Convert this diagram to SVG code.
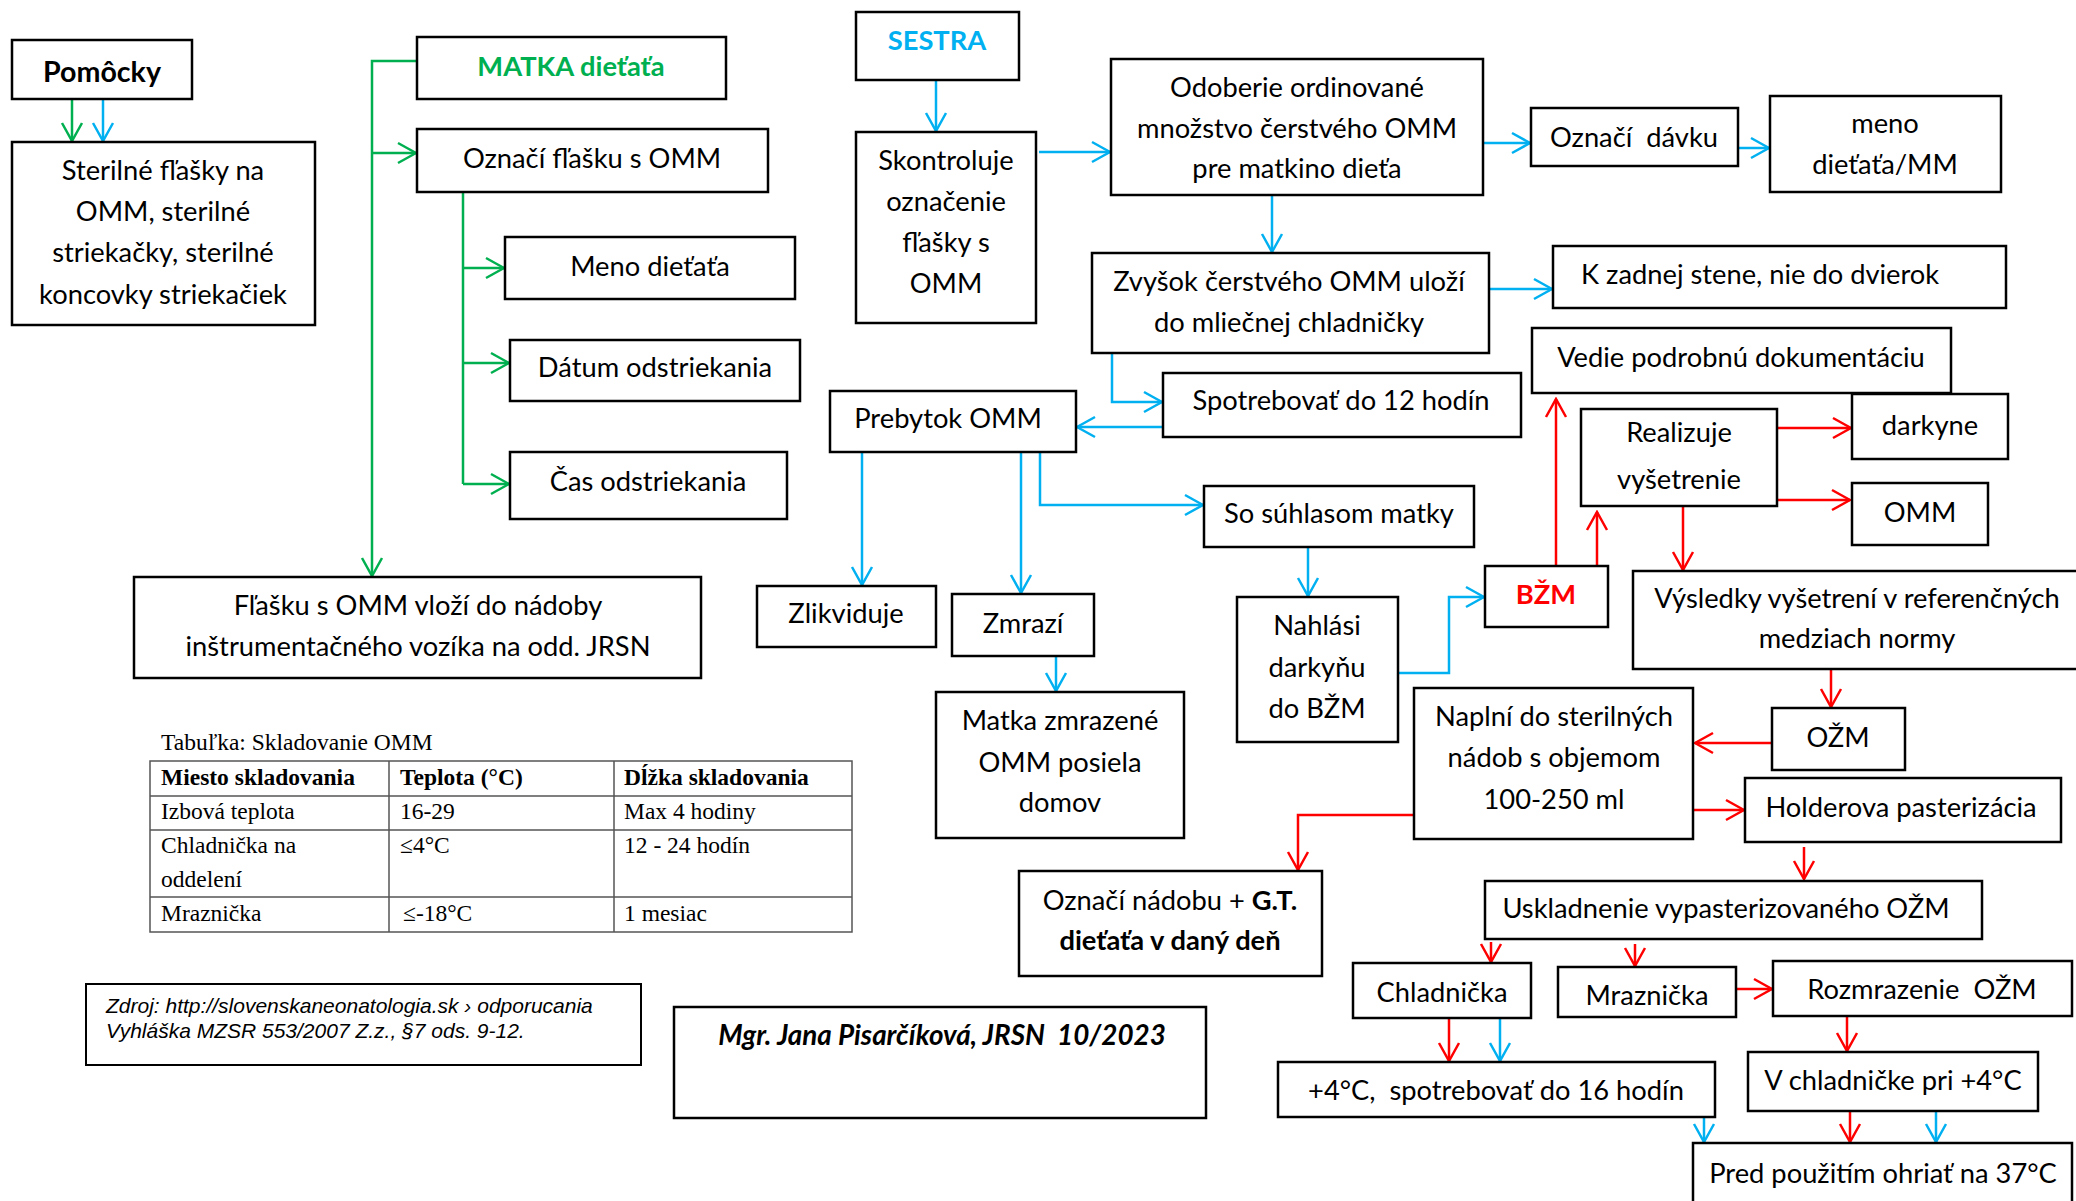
<svg xmlns="http://www.w3.org/2000/svg" width="2076" height="1201" viewBox="0 0 2076 1201">
<style>
.b{fill:#fff;stroke:#000;stroke-width:2.5}
.t{font-family:Lato,"Open Sans","DejaVu Sans",sans-serif;font-size:27.3px;fill:#000;text-anchor:middle}
.tl{text-anchor:start}
.bold{font-weight:bold}
.g{fill:none;stroke:#00B050;stroke-width:2.5}
.bl{fill:none;stroke:#00B0F0;stroke-width:2.5}
.r{fill:none;stroke:#FF0000;stroke-width:2.5}
.ser{font-family:"Liberation Serif","Times New Roman",serif;font-size:23.5px;fill:#000}
.tab{stroke:#555;stroke-width:1.5;fill:none}
.src{font-family:"Liberation Sans",Arial,sans-serif;font-style:italic;font-size:21px;fill:#000}
</style>
<defs>
<marker id="ag" markerUnits="userSpaceOnUse" viewBox="-20 -12 22 24" refX="0" refY="0" markerWidth="22" markerHeight="24" orient="auto"><path d="M-18,-10 L0,0 L-18,10" fill="none" stroke="#00B050" stroke-width="2.5"/></marker>
<marker id="ab" markerUnits="userSpaceOnUse" viewBox="-20 -12 22 24" refX="0" refY="0" markerWidth="22" markerHeight="24" orient="auto"><path d="M-18,-10 L0,0 L-18,10" fill="none" stroke="#00B0F0" stroke-width="2.5"/></marker>
<marker id="ar" markerUnits="userSpaceOnUse" viewBox="-20 -12 22 24" refX="0" refY="0" markerWidth="22" markerHeight="24" orient="auto"><path d="M-18,-10 L0,0 L-18,10" fill="none" stroke="#FF0000" stroke-width="2.5"/></marker>
</defs>
<rect width="2076" height="1201" fill="#fff"/>

<g id="connectors">
<g class="g">
<path d="M72,99 V141" marker-end="url(#ag)"/>
<path d="M417,61 H372 V576" marker-end="url(#ag)"/>
<path d="M372,153 H416" marker-end="url(#ag)"/>
<path d="M463,192 V484"/>
<path d="M463,268 H504" marker-end="url(#ag)"/>
<path d="M463,363 H509" marker-end="url(#ag)"/>
<path d="M463,484 H509" marker-end="url(#ag)"/>
</g>
<g class="bl">
<path d="M103,99 V141" marker-end="url(#ab)"/>
<path d="M936,80 V131" marker-end="url(#ab)"/>
<path d="M1039,152 H1110" marker-end="url(#ab)"/>
<path d="M1483,143 H1530" marker-end="url(#ab)"/>
<path d="M1738,148 H1769" marker-end="url(#ab)"/>
<path d="M1272,195 V252" marker-end="url(#ab)"/>
<path d="M1489,289 H1552" marker-end="url(#ab)"/>
<path d="M1112,353 V402 H1162" marker-end="url(#ab)"/>
<path d="M1163,427 H1077" marker-end="url(#ab)"/>
<path d="M862,452 V585" marker-end="url(#ab)"/>
<path d="M1021,452 V593" marker-end="url(#ab)"/>
<path d="M1040,452 V505 H1203" marker-end="url(#ab)"/>
<path d="M1056,656 V691" marker-end="url(#ab)"/>
<path d="M1308,547 V596" marker-end="url(#ab)"/>
<path d="M1398,673 H1449 V597 H1484" marker-end="url(#ab)"/>
<path d="M1500,1018 V1061" marker-end="url(#ab)"/>
<path d="M1704,1116 V1142" marker-end="url(#ab)"/>
<path d="M1936,1111 V1142" marker-end="url(#ab)"/>
</g>
<g class="r">
<path d="M1556,566 V399" marker-end="url(#ar)"/>
<path d="M1597,566 V512" marker-end="url(#ar)"/>
<path d="M1777,428 H1851" marker-end="url(#ar)"/>
<path d="M1777,500 H1850" marker-end="url(#ar)"/>
<path d="M1683,506 V570" marker-end="url(#ar)"/>
<path d="M1831,669 V707" marker-end="url(#ar)"/>
<path d="M1772,743 H1695" marker-end="url(#ar)"/>
<path d="M1414,815 H1298 V870" marker-end="url(#ar)"/>
<path d="M1693,810 H1744" marker-end="url(#ar)"/>
<path d="M1804,847 V879" marker-end="url(#ar)"/>
<path d="M1491,942 V962" marker-end="url(#ar)"/>
<path d="M1635,944 V966" marker-end="url(#ar)"/>
<path d="M1736,989 H1772" marker-end="url(#ar)"/>
<path d="M1449,1018 V1061" marker-end="url(#ar)"/>
<path d="M1847,1016 V1051" marker-end="url(#ar)"/>
<path d="M1850,1111 V1142" marker-end="url(#ar)"/>
</g>
</g>

<g id="pomocky"><rect class="b" x="12" y="40" width="180" height="59"/><text class="t bold" x="102" y="82" style="font-size:28.6px">Pomôcky</text></g>
<g id="sterilne"><rect class="b" x="12" y="142" width="303" height="183"/>
<text class="t" x="163" y="180">Sterilné fľašky na</text>
<text class="t" x="163" y="221">OMM, sterilné</text>
<text class="t" x="163" y="262">striekačky, sterilné</text>
<text class="t" x="163" y="304">koncovky striekačiek</text></g>
<g id="matka"><rect class="b" x="417" y="37" width="309" height="62"/><text class="t bold" x="571" y="76" style="fill:#00B050">MATKA dieťaťa</text></g>
<g id="oznaci-flasku"><rect class="b" x="417" y="129" width="351" height="63"/><text class="t" x="592" y="168">Označí fľašku s OMM</text></g>
<g id="meno-dietata"><rect class="b" x="505" y="237" width="290" height="62"/><text class="t" x="650" y="276">Meno dieťaťa</text></g>
<g id="datum"><rect class="b" x="510" y="340" width="290" height="61"/><text class="t" x="655" y="377">Dátum odstriekania</text></g>
<g id="cas"><rect class="b" x="510" y="452" width="277" height="67"/><text class="t" x="648" y="491">Čas odstriekania</text></g>
<g id="flasku"><rect class="b" x="134" y="577" width="567" height="101"/>
<text class="t" x="418" y="615">Fľašku s OMM vloží do nádoby</text>
<text class="t" x="418" y="656">inštrumentačného vozíka na odd. JRSN</text></g>

<g id="sestra"><rect class="b" x="856" y="12" width="163" height="68"/><text class="t bold" x="937" y="50" style="fill:#00B0F0">SESTRA</text></g>
<g id="skontroluje"><rect class="b" x="856" y="132" width="180" height="191"/>
<text class="t" x="946" y="170">Skontroluje</text>
<text class="t" x="946" y="211">označenie</text>
<text class="t" x="946" y="252">fľašky s</text>
<text class="t" x="946" y="293">OMM</text></g>
<g id="odoberie"><rect class="b" x="1111" y="59" width="372" height="136"/>
<text class="t" x="1297" y="97">Odoberie ordinované</text>
<text class="t" x="1297" y="138">množstvo čerstvého OMM</text>
<text class="t" x="1297" y="178">pre matkino dieťa</text></g>
<g id="oznaci-davku"><rect class="b" x="1531" y="108" width="207" height="58"/><text class="t" x="1634" y="147" xml:space="preserve">Označí  dávku</text></g>
<g id="meno-mm"><rect class="b" x="1770" y="96" width="231" height="96"/>
<text class="t" x="1885" y="133">meno</text>
<text class="t" x="1885" y="174">dieťaťa/MM</text></g>
<g id="zvysok"><rect class="b" x="1092" y="253" width="397" height="100"/>
<text class="t" x="1289" y="291">Zvyšok čerstvého OMM uloží</text>
<text class="t" x="1289" y="332">do mliečnej chladničky</text></g>
<g id="k-zadnej"><rect class="b" x="1553" y="246" width="453" height="62"/><text class="t tl" x="1581" y="284">K zadnej stene, nie do dvierok</text></g>
<g id="vedie"><rect class="b" x="1532" y="328" width="419" height="65"/><text class="t" x="1741" y="367">Vedie podrobnú dokumentáciu</text></g>
<g id="spotrebovat12"><rect class="b" x="1163" y="373" width="358" height="64"/><text class="t" x="1341" y="410">Spotrebovať do 12 hodín</text></g>
<g id="prebytok"><rect class="b" x="830" y="391" width="246" height="61"/><text class="t" x="948" y="428">Prebytok OMM</text></g>
<g id="realizuje"><rect class="b" x="1581" y="409" width="196" height="97"/>
<text class="t" x="1679" y="442">Realizuje</text>
<text class="t" x="1679" y="489">vyšetrenie</text></g>
<g id="darkyne"><rect class="b" x="1852" y="394" width="156" height="65"/><text class="t" x="1930" y="435">darkyne</text></g>
<g id="omm"><rect class="b" x="1852" y="483" width="136" height="62"/><text class="t" x="1920" y="522">OMM</text></g>
<g id="suhlas"><rect class="b" x="1204" y="486" width="270" height="61"/><text class="t" x="1339" y="523">So súhlasom matky</text></g>
<g id="zlikviduje"><rect class="b" x="757" y="586" width="179" height="61"/><text class="t" x="846" y="623">Zlikviduje</text></g>
<g id="zmrazi"><rect class="b" x="952" y="594" width="142" height="62"/><text class="t" x="1023" y="633">Zmrazí</text></g>
<g id="bzm"><rect class="b" x="1485" y="566" width="123" height="61"/><text class="t bold" x="1546" y="604" style="fill:#FF0000">BŽM</text></g>
<g id="vysledky"><rect class="b" x="1633" y="571" width="460" height="98"/>
<text class="t" x="1857" y="608">Výsledky vyšetrení v referenčných</text>
<text class="t" x="1857" y="648">medziach normy</text></g>
<g id="matka-zmrazene"><rect class="b" x="936" y="692" width="248" height="146"/>
<text class="t" x="1060" y="730">Matka zmrazené</text>
<text class="t" x="1060" y="772">OMM posiela</text>
<text class="t" x="1060" y="812">domov</text></g>
<g id="nahlasi"><rect class="b" x="1237" y="597" width="161" height="145"/>
<text class="t" x="1317" y="635">Nahlási</text>
<text class="t" x="1317" y="677">darkyňu</text>
<text class="t" x="1317" y="718">do BŽM</text></g>
<g id="ozm"><rect class="b" x="1772" y="708" width="133" height="62"/><text class="t" x="1838" y="747">OŽM</text></g>
<g id="naplni"><rect class="b" x="1414" y="688" width="279" height="151"/>
<text class="t" x="1554" y="726">Naplní do sterilných</text>
<text class="t" x="1554" y="767">nádob s objemom</text>
<text class="t" x="1554" y="809">100-250 ml</text></g>
<g id="holderova"><rect class="b" x="1745" y="778" width="316" height="64"/><text class="t" x="1901" y="817">Holderova pasterizácia</text></g>
<g id="oznaci-nadobu"><rect class="b" x="1019" y="871" width="303" height="105"/>
<text class="t" x="1170" y="910">Označí nádobu + <tspan class="bold">G.T.</tspan></text>
<text class="t bold" x="1170" y="950">dieťaťa v daný deň</text></g>
<g id="uskladnenie"><rect class="b" x="1485" y="881" width="497" height="58"/><text class="t" x="1726" y="918">Uskladnenie vypasterizovaného OŽM</text></g>
<g id="chladnicka"><rect class="b" x="1353" y="963" width="178" height="55"/><text class="t" x="1442" y="1002">Chladnička</text></g>
<g id="mraznicka"><rect class="b" x="1558" y="967" width="178" height="50"/><text class="t" x="1647" y="1005">Mraznička</text></g>
<g id="rozmrazenie"><rect class="b" x="1773" y="961" width="299" height="55"/><text class="t" x="1922" y="999" xml:space="preserve">Rozmrazenie  OŽM</text></g>
<g id="plus4"><rect class="b" x="1278" y="1062" width="437" height="55"/><text class="t" x="1496" y="1100" xml:space="preserve">+4°C,  spotrebovať do 16 hodín</text></g>
<g id="v-chladnicke"><rect class="b" x="1748" y="1052" width="290" height="59"/><text class="t" x="1893" y="1090">V chladničke pri +4°C</text></g>
<g id="pred"><rect class="b" x="1693" y="1143" width="379" height="80"/><text class="t" x="1883" y="1183">Pred použitím ohriať na 37°C</text></g>

<g id="tabulka">
<text class="ser" x="161" y="750">Tabuľka: Skladovanie OMM</text>
<rect class="tab" x="150" y="761" width="702" height="171"/>
<path class="tab" d="M150,796 H852 M150,830 H852 M150,897 H852 M389,761 V932 M614,761 V932"/>
<text class="ser" x="161" y="785" font-weight="bold">Miesto skladovania</text>
<text class="ser" x="400" y="785" font-weight="bold">Teplota (°C)</text>
<text class="ser" x="624" y="785" font-weight="bold">Dĺžka skladovania</text>
<text class="ser" x="161" y="819">Izbová teplota</text>
<text class="ser" x="400" y="819">16-29</text>
<text class="ser" x="624" y="819">Max 4 hodiny</text>
<text class="ser" x="161" y="853">Chladnička na</text>
<text class="ser" x="161" y="887">oddelení</text>
<text class="ser" x="400" y="853">≤4°C</text>
<text class="ser" x="624" y="853">12 - 24 hodín</text>
<text class="ser" x="161" y="921">Mraznička</text>
<text class="ser" x="403" y="921">≤-18°C</text>
<text class="ser" x="624" y="921">1 mesiac</text>
</g>

<g id="zdroj"><rect x="86" y="984" width="555" height="81" fill="#fff" stroke="#000" stroke-width="2"/>
<text class="src" x="106" y="1013">Zdroj: http://slovenskaneonatologia.sk › odporucania</text>
<text class="src" x="106" y="1038">Vyhláška MZSR 553/2007 Z.z., §7 ods. 9-12.</text></g>
<g id="autor"><rect class="b" x="674" y="1007" width="532" height="111"/>
<text class="t bold" x="942" y="1045" font-style="italic" style="font-size:27.8px" xml:space="preserve">Mgr. Jana Pisarčíková, JRSN  10/2023</text></g>
</svg>
